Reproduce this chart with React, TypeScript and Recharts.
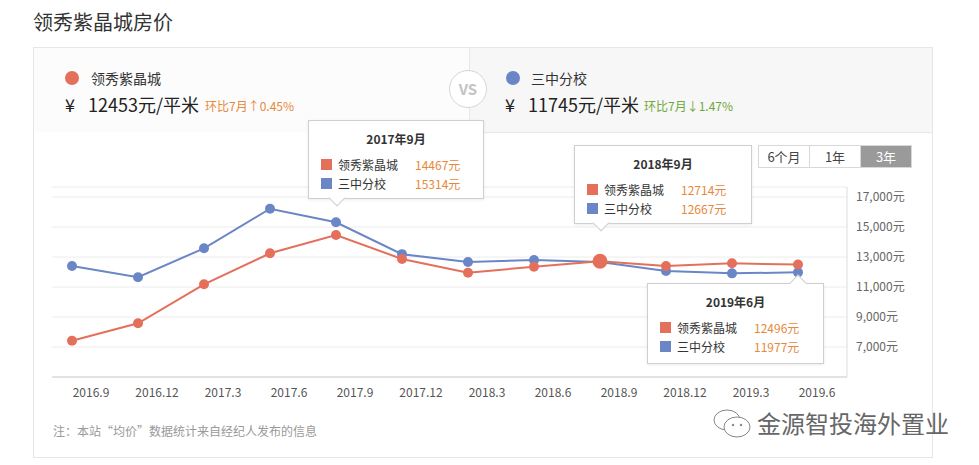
import React from 'react';
import { LineChart, Line, XAxis, YAxis, CartesianGrid } from 'recharts';

const months = ['2016.9', '2016.12', '2017.3', '2017.6', '2017.9', '2017.12', '2018.3', '2018.6', '2018.9', '2018.12', '2019.3', '2019.6'];
const lingxiu = [7420, 8580, 11180, 13250, 14467, 12870, 11950, 12350, 12714, 12400, 12580, 12496];
const sanzhong = [12400, 11650, 13580, 16220, 15314, 13190, 12670, 12800, 12667, 12070, 11910, 11977];
const yTicks = [7000, 9000, 11000, 13000, 15000, 17000];
const seriesNames = ['领秀紫晶城', '三中分校'];
const tipTitles = ['2017年9月', '2018年9月', '2019年6月'];
const tipIndex = [4, 8, 11];
const headPrice = [12453, 11745];
const headChange = ['环比7月↑0.45%', '环比7月↓1.47%'];
const ranges = ['6个月', '1年', '3年'];

const RED = '#e4705c';
const BLUE = '#6b86c6';
const ORANGE = '#e8883a';
const FONT = '"Noto Sans CJK SC", "Noto Sans", sans-serif';

const data = months.map((m, i) => ({ m, a: lingxiu[i], b: sanzhong[i] }));

const XTick = (props: any) => {
  const { x, y, payload } = props;
  return (
    <text x={x + 19} y={y} dy="0.71em" textAnchor="middle" fontSize={12} fill="#555" fontFamily={FONT}>
      {payload.value}
    </text>
  );
};

const YTick = (props: any) => {
  const { x, y, payload } = props;
  return (
    <text x={x} y={y} dy="0.35em" textAnchor="start" fontSize={12} fill="#666" fontFamily={FONT}>
      {payload.value.toLocaleString('en-US')}元
    </text>
  );
};

const RedDot = (props: any) => {
  const { cx, cy, index } = props;
  return <circle key={'r' + index} cx={cx} cy={cy} r={index === 8 ? 7.5 : 5} fill={RED} />;
};
const BlueDot = (props: any) => {
  const { cx, cy, index } = props;
  return <circle key={'b' + index} cx={cx} cy={cy} r={5} fill={BLUE} />;
};

function Tip({ left, top, width, height, k, arrowX, arrowTop }: any) {
  const idx = tipIndex[k];
  const rows = [
    { c: RED, n: seriesNames[0], v: lingxiu[idx] },
    { c: BLUE, n: seriesNames[1], v: sanzhong[idx] },
  ];
  return (
    <div style={{ position: 'absolute', left, top, width, height, background: '#fff', border: '1px solid #cfcfcf', boxShadow: '0 1px 3px rgba(0,0,0,0.08)', fontFamily: FONT, boxSizing: 'border-box' }}>
      <div style={{ position: 'absolute', left: arrowX - 6, top: arrowTop ? -7 : height - 8, width: 11, height: 11, background: '#fff', transform: 'rotate(45deg)', borderLeft: arrowTop ? '1px solid #cfcfcf' : 'none', borderTop: arrowTop ? '1px solid #cfcfcf' : 'none', borderRight: arrowTop ? 'none' : '1px solid #cfcfcf', borderBottom: arrowTop ? 'none' : '1px solid #cfcfcf' }} />
      <div style={{ position: 'absolute', left: 0, width: '100%', top: 9, textAlign: 'center', fontSize: 12, fontWeight: 'bold', color: '#333', lineHeight: '17px' }}>{tipTitles[k]}</div>
      {rows.map((r, i) => (
        <div key={i} style={{ position: 'absolute', left: 0, top: 35 + i * 19, height: 17, width: '100%', fontSize: 12, lineHeight: '17px' }}>
          <div style={{ position: 'absolute', left: 12, top: 3, width: 11, height: 11, background: r.c }} />
          <div style={{ position: 'absolute', left: 29, top: 0, color: '#333' }}>{r.n}</div>
          <div style={{ position: 'absolute', left: 106, top: 0, color: ORANGE }}>{r.v}元</div>
        </div>
      ))}
    </div>
  );
}

export default function App() {
  return (
    <div style={{ position: 'absolute', left: 0, top: 0, width: 979, height: 465, background: '#fff', fontFamily: FONT, overflow: 'hidden' }}>
      <div style={{ position: 'absolute', left: 33, top: 9, fontSize: 20, color: '#333', lineHeight: '26px' }}>领秀紫晶城房价</div>
      {/* outer box */}
      <div style={{ position: 'absolute', left: 33, top: 47, width: 900, height: 411, border: '1px solid #e6e6e6', boxSizing: 'border-box' }} />
      {/* header panels */}
      <div style={{ position: 'absolute', left: 34, top: 48, width: 435, height: 84, background: '#fcfcfc' }} />
      <div style={{ position: 'absolute', left: 469, top: 48, width: 463, height: 85, background: '#f7f7f7', borderLeft: '1px solid #e8e8e8', borderBottom: '1px solid #e8e8e8', boxSizing: 'border-box' }} />
      {/* left header content */}
      <div style={{ position: 'absolute', left: 65, top: 71, width: 14, height: 14, borderRadius: 7, background: RED }} />
      <div style={{ position: 'absolute', left: 91, top: 68, fontSize: 14, color: '#333', lineHeight: '20px' }}>{seriesNames[0]}</div>
      <div style={{ position: 'absolute', left: 65, top: 92, fontSize: 18, color: '#222', lineHeight: '24px' }}>¥</div>
      <div style={{ position: 'absolute', left: 88, top: 92, fontSize: 18, color: '#222', lineHeight: '24px' }}>{headPrice[0]}元/平米</div>
      <div style={{ position: 'absolute', left: 205, top: 97, fontSize: 12, color: ORANGE, lineHeight: '18px' }}>{headChange[0]}</div>
      {/* right header content */}
      <div style={{ position: 'absolute', left: 506, top: 71, width: 14, height: 14, borderRadius: 7, background: BLUE }} />
      <div style={{ position: 'absolute', left: 531, top: 68, fontSize: 14, color: '#333', lineHeight: '20px' }}>{seriesNames[1]}</div>
      <div style={{ position: 'absolute', left: 505, top: 92, fontSize: 18, color: '#222', lineHeight: '24px' }}>¥</div>
      <div style={{ position: 'absolute', left: 528, top: 92, fontSize: 18, color: '#222', lineHeight: '24px' }}>{headPrice[1]}元/平米</div>
      <div style={{ position: 'absolute', left: 644, top: 97, fontSize: 12, color: '#6fa83a', lineHeight: '18px' }}>{headChange[1]}</div>
      {/* VS circle */}
      <div style={{ position: 'absolute', left: 449, top: 70, width: 38, height: 38, borderRadius: 19, background: '#fff', border: '1px solid #d6d6d6', boxSizing: 'border-box', textAlign: 'center', lineHeight: '36px', fontSize: 15, color: '#c4c4c4', fontWeight: 'bold' }}>VS</div>
      {/* range buttons */}
      <div style={{ position: 'absolute', left: 758, top: 145, width: 154, height: 23, border: '1px solid #d8d8d8', boxSizing: 'border-box', display: 'flex', fontSize: 13, lineHeight: '21px' }}>
        {ranges.map((r, i) => (
          <div key={r} style={{ flex: 1, textAlign: 'center', color: i === 2 ? '#fff' : '#444', background: i === 2 ? '#9a9a9a' : '#fff', borderLeft: i > 0 ? '1px solid #d8d8d8' : 'none' }}>{r}</div>
        ))}
      </div>
      {/* chart */}
      <div style={{ position: 'absolute', left: 0, top: 0 }}>
        <LineChart width={979} height={465} data={data} margin={{ top: 187, right: 0, bottom: 58, left: 52 }}>
          <CartesianGrid vertical={false} stroke="#ececec" />
          <XAxis dataKey="m" padding={{ left: 20, right: 49 }} axisLine={{ stroke: '#cfcfcf' }} tickLine={false} tickMargin={5} height={30} tick={<XTick />} interval={0} />
          <YAxis orientation="right" width={132} domain={[5000, 17667]} ticks={yTicks} axisLine={{ stroke: '#dcdcdc' }} tickLine={false} tickMargin={3} tick={<YTick />} />
          <Line dataKey="b" stroke={BLUE} strokeWidth={2} dot={<BlueDot />} isAnimationActive={false} />
          <Line dataKey="a" stroke={RED} strokeWidth={2} dot={<RedDot />} isAnimationActive={false} />
        </LineChart>
      </div>
      <Tip left={308} top={120} width={176} height={79} k={0} arrowX={28} arrowTop={false} />
      <Tip left={574} top={145} width={178} height={79} k={1} arrowX={26} arrowTop={false} />
      <Tip left={647} top={283} width={177} height={81} k={2} arrowX={150} arrowTop={true} />
      <div style={{ position: 'absolute', left: 53, top: 422, fontSize: 12, color: '#999', lineHeight: '18px' }}>注：本站“均价”数据统计来自经纪人发布的信息</div>
      {/* watermark */}
      <svg style={{ position: 'absolute', left: 710, top: 406 }} width={48} height={36}>
        <ellipse cx={17} cy={14} rx={13} ry={10} fill="none" stroke="#888" strokeWidth={1} />
        <ellipse cx={27} cy={21} rx={13} ry={10} fill="#fff" stroke="#888" strokeWidth={1} />
        <circle cx={23} cy={19} r={1.2} fill="#888" />
        <circle cx={31} cy={19} r={1.2} fill="#888" />
      </svg>
      <div style={{ position: 'absolute', left: 757, top: 407, fontSize: 24, color: '#666', lineHeight: '32px', letterSpacing: 0 }}>金源智投海外置业</div>
    </div>
  );
}
